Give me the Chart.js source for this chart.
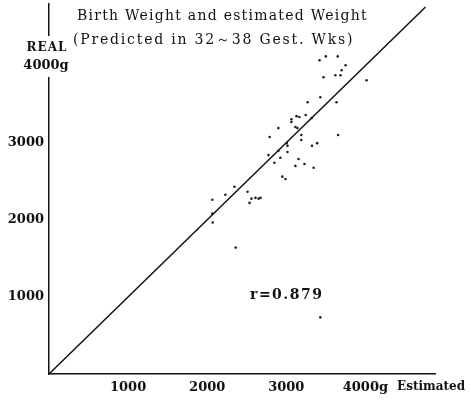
<!DOCTYPE html>
<html>
<head>
<meta charset="utf-8">
<script src="https://cdn.jsdelivr.net/npm/chart.js@4/dist/chart.umd.min.js"></script>
<style>
  body { margin: 0; background: #fff; }
  canvas { display: block; }
</style>
</head>
<body>
<canvas id="weightChart" width="471" height="405"></canvas>
<script>
'use strict';

// Tick labels
var xTicks = [1000, 2000, 3000, 4000];
var yTicks = [1000, 2000, 3000];

// Estimated weight (g) vs real birth weight (g)
var estimated = [3420, 3500, 3650, 3750, 3700, 3620, 3685, 3470, 4015, 3430,
  3270, 3635, 3130, 3165, 3245, 3065, 3065, 3320, 2900, 3115,
  3140, 2790, 3190, 3190, 3655, 3390, 3325, 3005, 3015, 2775,
  2900, 2925, 3015, 2850, 3155, 3230, 3115, 3345, 2950, 2990,
  2345, 2230, 2065, 2510, 2535, 2560, 2610, 2650, 2675, 2065,
  2070, 2360, 3430];
var real = [4070, 4120, 4120, 4005, 3940, 3875, 3875, 3850, 3810, 3590,
  3525, 3525, 3345, 3335, 3360, 3305, 3270, 3320, 3190, 3205,
  3190, 3075, 3100, 3035, 3100, 2995, 2960, 2995, 2960, 2840,
  2895, 2805, 2880, 2740, 2790, 2725, 2700, 2675, 2560, 2530,
  2430, 2325, 2260, 2365, 2220, 2275, 2285, 2275, 2285, 2080,
  1965, 1640, 735];

// Line of identity (real = estimated)
var lineX = [0, 4760];
var lineY = [0, 4760];

var titleLines = ['Birth Weight and estimated Weight', '(Predicted in 32\uFF5E38 Gest. Wks)'];
var rText = 'r=0.879';

function toPoints(xs, ys) {
  return xs.map(function(x, i) { return { x: x, y: ys[i] }; });
}

// Texts that sit inside the plot (title, axis names, r value)
var annotations = {
  id: 'annotations',
  afterDraw: function(chart) {
    var ctx = chart.ctx;
    ctx.save();
    // gap in the y axis behind the REAL / 4000g label
    ctx.fillStyle = '#fff';
    ctx.fillRect(20, 36, 52, 41);
    ctx.fillStyle = '#111';
    ctx.textBaseline = 'middle';
    ctx.textAlign = 'center';
    ctx.font = 'bold 12px "DejaVu Serif"';
    ctx.letterSpacing = '1px';
    ctx.fillText('REAL', 47, 48);
    ctx.letterSpacing = '0px';
    ctx.font = 'bold 13px "DejaVu Serif"';
    ctx.fillText('4000g', 46, 66);

    ctx.textAlign = 'left';
    ctx.font = '14px "DejaVu Serif"';
    ctx.letterSpacing = '1.25px';
    ctx.fillText(titleLines[0], 77, 16);
    ctx.letterSpacing = '1.8px';
    ctx.fillText(titleLines[1], 73, 40);

    ctx.font = 'bold 14px "DejaVu Serif"';
    ctx.letterSpacing = '1.5px';
    ctx.fillText(rText, 250, 295);

    ctx.letterSpacing = '0px';
    ctx.font = 'bold 12px "DejaVu Serif"';
    ctx.fillText('Estimated', 397, 387);
    ctx.restore();
  }
};

var tickFont = { family: 'DejaVu Serif', size: 13, weight: 'bold' };

new Chart(document.getElementById('weightChart'), {
  type: 'scatter',
  data: {
    datasets: [{
      data: toPoints(estimated, real),
      pointRadius: 1.3,
      pointBorderWidth: 0,
      pointBackgroundColor: '#222'
    }, {
      data: toPoints(lineX, lineY),
      showLine: true,
      pointRadius: 0,
      borderColor: '#111',
      borderWidth: 1.5
    }]
  },
  options: {
    responsive: false,
    animation: false,
    devicePixelRatio: 1,
    layout: { padding: { top: 3, right: 36, left: 0, bottom: 0 } },
    plugins: {
      legend: { display: false },
      tooltip: { enabled: false }
    },
    scales: {
      x: {
        min: 0,
        max: 4880,
        afterFit: function(s) { s.height = 31; s.paddingLeft = 0; s.paddingRight = 0; },
        afterBuildTicks: function(s) { s.ticks = xTicks.map(function(v) { return { value: v }; }); },
        grid: { display: false, drawTicks: false, tickLength: 0 },
        border: { display: true, color: '#111', width: 1.5 },
        ticks: {
          color: '#111',
          font: tickFont,
          padding: 6,
          maxRotation: 0,
          autoSkip: false,
          callback: function(v) { return v === 4000 ? '4000g' : String(v); }
        }
      },
      y: {
        min: 0,
        max: 4800,
        afterFit: function(s) { s.width = 49; s.paddingTop = 0; s.paddingBottom = 0; },
        afterBuildTicks: function(s) { s.ticks = yTicks.map(function(v) { return { value: v }; }); },
        grid: { display: false, drawTicks: false, tickLength: 0 },
        border: { display: true, color: '#111', width: 1.5 },
        ticks: {
          color: '#111',
          font: tickFont,
          padding: 5,
          autoSkip: false,
          callback: function(v) { return String(v); }
        }
      }
    }
  },
  plugins: [annotations]
});
</script>
</body>
</html>
